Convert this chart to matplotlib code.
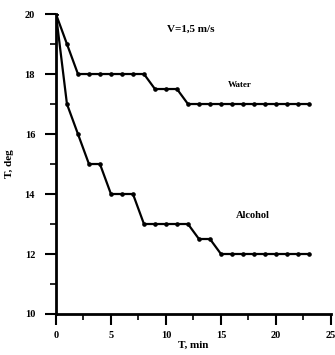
import matplotlib.pyplot as plt
import numpy as np

plt.rcParams['font.family'] = ['Liberation Serif', 'DejaVu Serif']
plt.rcParams['font.weight'] = 'bold'

# time, min
t = list(range(0, 24))
water = [20, 19, 18, 18, 18, 18, 18, 18, 18, 17.5, 17.5, 17.5,
         17, 17, 17, 17, 17, 17, 17, 17, 17, 17, 17, 17]
alcohol = [20, 17, 16, 15, 15, 14, 14, 14, 13, 13, 13, 13,
           13, 12.5, 12.5, 12, 12, 12, 12, 12, 12, 12, 12, 12]

fig = plt.figure(figsize=(3.35, 3.55), dpi=100)
ax = fig.add_axes([0.167, 0.1155, 0.821, 0.845])

ax.plot(t, water, color='black', lw=1.6, marker='o', ms=2.3)
ax.plot(t, alcohol, color='black', lw=1.6, marker='o', ms=2.3)

ax.set_xlim(0, 25)
ax.set_ylim(10, 20)
ax.set_xticks([0, 5, 10, 15, 20, 25])
ax.set_xticks(np.arange(0, 25.1, 2.5), minor=True)
ax.set_yticks([10, 12, 14, 16, 18, 20])
ax.set_yticks(range(10, 21), minor=True)

for s in ['top', 'right']:
    ax.spines[s].set_visible(False)
for s in ['left', 'bottom']:
    ax.spines[s].set_linewidth(2.0)

ax.tick_params(which='major', direction='out', length=8, width=1.5,
               labelsize=7.5, pad=4)
ax.tick_params(axis='y', which='major', pad=7)
ax.tick_params(which='minor', direction='out', length=4, width=1.2)

ax.text(10.1, 19.5, 'V=1,5 m/s', fontsize=8, fontweight='bold', va='center')
ax.text(15.6, 17.63, 'Water', fontsize=6.5, fontweight='bold', va='center')
ax.text(16.4, 13.3, 'Alcohol', fontsize=7.5, fontweight='bold', va='center')

ax.set_xlabel('T, min', fontsize=8, fontweight='bold', labelpad=1)
ax.set_ylabel('T, deg', fontsize=8, fontweight='bold', labelpad=8)

fig.savefig('out.png', dpi=100)
